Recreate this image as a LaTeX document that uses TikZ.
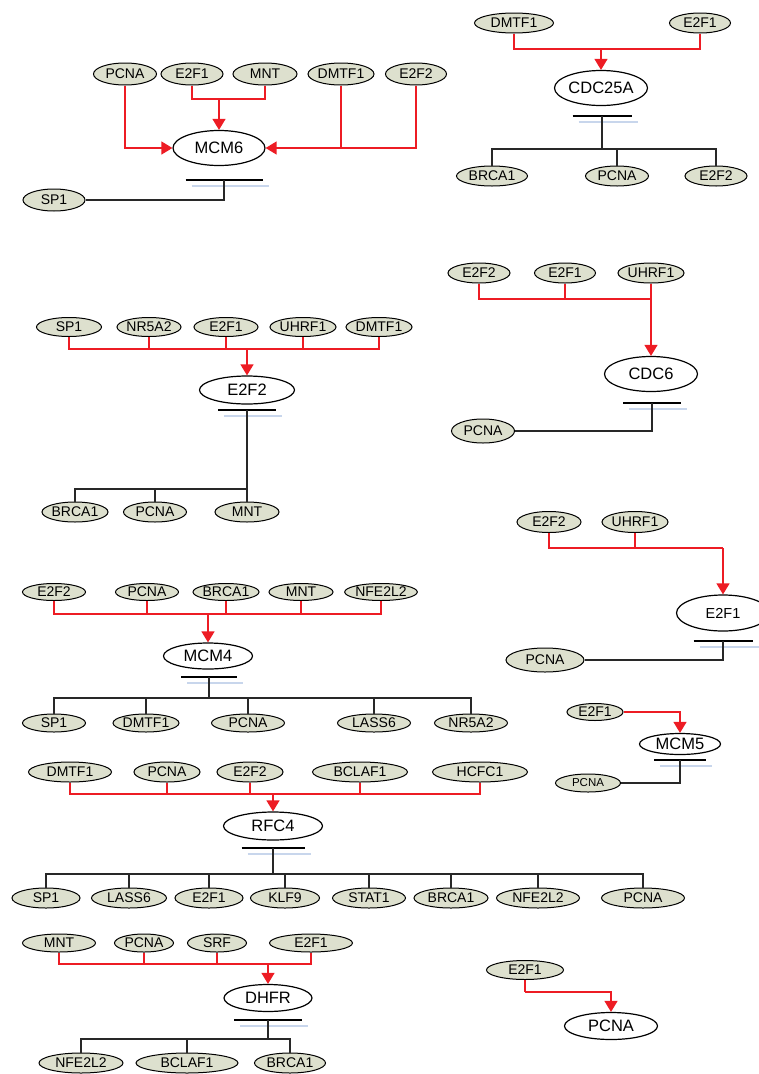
\documentclass[tikz,border=0pt]{standalone}
\usepackage{fontspec}
\setmainfont{Liberation Sans}
\usetikzlibrary{shapes.geometric,arrows.meta}
\definecolor{genefill}{RGB}{221,224,206}
\definecolor{actred}{RGB}{237,28,36}
\definecolor{inhgray}{RGB}{40,40,40}
\definecolor{barblue}{RGB}{200,214,236}
\tikzset{
  gene/.style={ellipse, draw=black, line width=1pt, fill=genefill, inner sep=0pt,
    minimum height=20pt, font=\fontsize{14}{14}\selectfont},
  hub/.style={ellipse, draw=black, line width=1.2pt, fill=white, inner sep=0pt,
    minimum height=34pt, font=\fontsize{16.5}{16.5}\selectfont},
  act/.style={draw=actred, line width=1.3pt},
  acttip/.style={act, -{Triangle[width=13pt,length=11pt]}},
  inh/.style={draw=inhgray, line width=1.2pt},
  barline/.style={draw=black, line width=1.5pt},
  barshade/.style={draw=barblue, line width=1.5pt},
}
% inhibition bar: #1 = centre coordinate, #2 = half length (pt)
\newcommand{\inhbar}[2]{%
  \draw[barshade] ([xshift=-#2pt+6pt,yshift=-6pt]#1) -- ([xshift=#2pt+6pt,yshift=-6pt]#1);
  \draw[barline] ([xshift=-#2pt]#1) -- ([xshift=#2pt]#1);}
\begin{document}
\begin{tikzpicture}[x=1pt,y=-1pt]
\useasboundingbox (0,0) rectangle (759,1074);

% ---------------- MCM6 ----------------
\node[hub, minimum width=92pt, minimum height=35pt] (m6) at (219,148) {MCM6};
\node[gene, minimum width=63pt, minimum height=22pt] (m6a) at (125,74) {PCNA};
\node[gene, minimum width=62pt, minimum height=22pt] (m6b) at (192,74) {E2F1};
\node[gene, minimum width=64pt, minimum height=22pt] (m6c) at (265,74) {MNT};
\node[gene, minimum width=64pt, minimum height=22pt] (m6d) at (341,74) {DMTF1};
\node[gene, minimum width=61pt, minimum height=22pt] (m6e) at (416,74) {E2F2};
\node[gene, minimum width=62pt, minimum height=22pt] (m6f) at (54,200) {SP1};
\coordinate (m6j) at (219,99);
\draw[acttip] (m6a.south) |- (m6.west);
\draw[act] (m6b.south) |- (m6j) -| (m6c.south);
\draw[acttip] (m6j) -- (m6.north);
\draw[acttip] (m6e.south) |- (m6.east);
\draw[act] (m6d.south) -- (m6d.south |- m6.east);
\coordinate (m6bar) at (224,180);
\inhbar{m6bar}{38.5}
\draw[inh] (m6bar) |- (m6f.east);

% ---------------- CDC25A ----------------
\node[hub, minimum width=93pt, minimum height=35pt] (c25) at (601,88) {CDC25A};
\node[gene, minimum width=79pt] (c25a) at (514,23) {DMTF1};
\node[gene, minimum width=61pt] (c25b) at (700,23) {E2F1};
\coordinate (c25j) at (601,49);
\draw[act] (c25a.south) |- (c25j) -| (c25b.south);
\draw[acttip] (c25j) -- (c25.north);
\coordinate (c25bar) at (602,116);
\inhbar{c25bar}{29.5}
\node[gene, minimum width=71pt] (c25x) at (492,176) {BRCA1};
\node[gene, minimum width=63pt] (c25y) at (617,176) {PCNA};
\node[gene, minimum width=62pt] (c25z) at (716,176) {E2F2};
\coordinate (c25o) at (602,149);
\draw[inh] (c25bar) -- (c25o);
\draw[inh] (c25x.north) |- (c25o) -| (c25z.north);
\draw[inh] (c25y.north) -- (c25y.north |- c25o);

% ---------------- E2F2 ----------------
\node[hub, minimum width=95pt, minimum height=28pt] (e2) at (247,390) {E2F2};
\node[gene, minimum width=65pt, minimum height=19pt] (e2a) at (69,327) {SP1};
\node[gene, minimum width=64pt, minimum height=19pt] (e2b) at (149,327) {NR5A2};
\node[gene, minimum width=64pt, minimum height=19pt] (e2c) at (226,327) {E2F1};
\node[gene, minimum width=62pt, minimum height=19pt] (e2d) at (303,327) {UHRF1};
\node[gene, minimum width=63pt, minimum height=19pt] (e2e) at (379,327) {DMTF1};
\coordinate (e2j) at (247,349);
\draw[act] (e2a.south) |- (e2j) -| (e2e.south);
\draw[act] (e2b.south) -- (e2b.south |- e2j);
\draw[act] (e2c.south) -- (e2c.south |- e2j);
\draw[act] (e2d.south) -- (e2d.south |- e2j);
\draw[acttip] (e2j) -- (e2.north);
\coordinate (e2bar) at (247,410);
\inhbar{e2bar}{29}
\node[gene, minimum width=64pt] (e2x) at (75,512) {BRCA1};
\node[gene, minimum width=63pt] (e2y) at (155,512) {PCNA};
\node[gene, minimum width=64pt] (e2z) at (247,512) {MNT};
\coordinate (e2o) at (247,489);
\draw[inh] (e2bar) -- (e2z.north);
\draw[inh] (e2x.north) |- (e2o);
\draw[inh] (e2y.north) -- (e2y.north |- e2o);

% ---------------- CDC6 ----------------
\node[hub, minimum width=93pt, minimum height=35pt] (c6) at (651,374) {CDC6};
\node[gene, minimum width=62pt] (c6a) at (479,273) {E2F2};
\node[gene, minimum width=61pt] (c6b) at (565,273) {E2F1};
\node[gene, minimum width=64pt] (c6c) at (651,273) {UHRF1};
\coordinate (c6j) at (651,299);
\draw[act] (c6a.south) |- (c6j);
\draw[act] (c6b.south) -- (c6b.south |- c6j);
\draw[acttip] (c6c.south) -- (c6.north);
\coordinate (c6bar) at (652,403);
\inhbar{c6bar}{29}
\node[gene, minimum width=63pt, minimum height=24pt] (c6x) at (483,431) {PCNA};
\draw[inh] (c6bar) |- (c6x.east);

% ---------------- E2F1 ----------------
\node[hub, minimum width=93pt, minimum height=36pt, font=\fontsize{14.5}{14.5}\selectfont] (e1) at (723,613) {E2F1};
\node[gene, minimum width=64pt, minimum height=21pt] (e1a) at (549,522) {E2F2};
\node[gene, minimum width=63pt, minimum height=21pt] (e1b) at (635,522) {UHRF1};
\coordinate (e1j) at (723,548);
\draw[act] (e1a.south) |- (e1j);
\draw[act] (e1b.south) -- (e1b.south |- e1j);
\draw[acttip] (e1j) -- (e1.north);
\coordinate (e1bar) at (723,641);
\inhbar{e1bar}{29.5}
\node[gene, minimum width=78pt, minimum height=24pt] (e1x) at (545,660) {PCNA};
\draw[inh] (e1bar) |- (e1x.east);

% ---------------- MCM5 ----------------
\node[hub, minimum width=81pt, minimum height=21pt] (m5) at (680,744) {MCM5};
\node[gene, minimum width=56pt, minimum height=17pt] (m5a) at (595,712) {E2F1};
\draw[acttip] (m5a.east) -| (m5.north);
\coordinate (m5bar) at (680,760);
\inhbar{m5bar}{26}
\node[gene, minimum width=65pt, minimum height=18pt, font=\fontsize{11.5}{11.5}\selectfont] (m5x) at (588,783) {PCNA};
\draw[inh] (m5bar) |- (m5x.east);

% ---------------- MCM4 ----------------
\node[hub, minimum width=89pt, minimum height=26pt] (m4) at (208,656) {MCM4};
\node[gene, minimum width=63pt, minimum height=17pt] (m4a) at (54,592) {E2F2};
\node[gene, minimum width=63pt, minimum height=17pt] (m4b) at (147,592) {PCNA};
\node[gene, minimum width=64pt, minimum height=17pt] (m4c) at (226,592) {BRCA1};
\node[gene, minimum width=64pt, minimum height=17pt] (m4d) at (301,592) {MNT};
\node[gene, minimum width=72pt, minimum height=17pt] (m4e) at (381,592) {NFE2L2};
\coordinate (m4j) at (208,614);
\draw[act] (m4a.south) |- (m4j) -| (m4e.south);
\draw[act] (m4b.south) -- (m4b.south |- m4j);
\draw[act] (m4c.south) -- (m4c.south |- m4j);
\draw[act] (m4d.south) -- (m4d.south |- m4j);
\draw[acttip] (m4j) -- (m4.north);
\coordinate (m4bar) at (209,677);
\inhbar{m4bar}{28}
\node[gene, minimum width=63pt, minimum height=18pt] (m4v) at (54,723) {SP1};
\node[gene, minimum width=61pt, minimum height=18pt] (m4w) at (146,723) {DMTF1};
\node[gene, minimum width=73pt, minimum height=18pt] (m4x) at (248,723) {PCNA};
\node[gene, minimum width=73pt, minimum height=18pt] (m4y) at (374,723) {LASS6};
\node[gene, minimum width=73pt, minimum height=18pt] (m4z) at (471,723) {NR5A2};
\coordinate (m4o) at (209,698);
\draw[inh] (m4bar) -- (m4o);
\draw[inh] (m4v.north) |- (m4o) -| (m4z.north);
\draw[inh] (m4w.north) -- (m4w.north |- m4o);
\draw[inh] (m4x.north) -- (m4x.north |- m4o);
\draw[inh] (m4y.north) -- (m4y.north |- m4o);

% ---------------- RFC4 ----------------
\node[hub, minimum width=99pt, minimum height=28pt] (r4) at (273,826) {RFC4};
\node[gene, minimum width=83pt] (r4a) at (70,772) {DMTF1};
\node[gene, minimum width=66pt] (r4b) at (167,772) {PCNA};
\node[gene, minimum width=66pt] (r4c) at (250,772) {E2F2};
\node[gene, minimum width=95pt] (r4d) at (360,772) {BCLAF1};
\node[gene, minimum width=95pt] (r4e) at (480,772) {HCFC1};
\coordinate (r4j) at (273,794);
\draw[act] (r4a.south) |- (r4j) -| (r4e.south);
\draw[act] (r4b.south) -- (r4b.south |- r4j);
\draw[act] (r4c.south) -- (r4c.south |- r4j);
\draw[act] (r4d.south) -- (r4d.south |- r4j);
\draw[acttip] (r4j) -- (r4.north);
\coordinate (r4bar) at (273,848);
\inhbar{r4bar}{31.5}
\node[gene, minimum width=68pt] (r4s) at (46,898) {SP1};
\node[gene, minimum width=75pt] (r4t) at (129,898) {LASS6};
\node[gene, minimum width=68pt] (r4u) at (209,898) {E2F1};
\node[gene, minimum width=69pt] (r4v) at (285,898) {KLF9};
\node[gene, minimum width=73pt] (r4w) at (369,898) {STAT1};
\node[gene, minimum width=74pt] (r4x) at (451,898) {BRCA1};
\node[gene, minimum width=83pt] (r4y) at (538,898) {NFE2L2};
\node[gene, minimum width=83pt] (r4z) at (643,898) {PCNA};
\coordinate (r4o) at (273,874);
\draw[inh] (r4bar) -- (r4o);
\draw[inh] (r4s.north) |- (r4o) -| (r4z.north);
\draw[inh] (r4t.north) -- (r4t.north |- r4o);
\draw[inh] (r4u.north) -- (r4u.north |- r4o);
\draw[inh] (r4v.north) -- (r4v.north |- r4o);
\draw[inh] (r4w.north) -- (r4w.north |- r4o);
\draw[inh] (r4x.north) -- (r4x.north |- r4o);
\draw[inh] (r4y.north) -- (r4y.north |- r4o);

% ---------------- DHFR ----------------
\node[hub, minimum width=88pt, minimum height=27pt] (dh) at (268,998) {DHFR};
\node[gene, minimum width=73pt, minimum height=18pt] (dha) at (59,943) {MNT};
\node[gene, minimum width=59pt, minimum height=18pt] (dhb) at (144,943) {PCNA};
\node[gene, minimum width=59pt, minimum height=18pt] (dhc) at (217,943) {SRF};
\node[gene, minimum width=83pt, minimum height=18pt] (dhd) at (311,943) {E2F1};
\coordinate (dhj) at (268,964);
\draw[act] (dha.south) |- (dhj) -| (dhd.south);
\draw[act] (dhb.south) -- (dhb.south |- dhj);
\draw[act] (dhc.south) -- (dhc.south |- dhj);
\draw[acttip] (dhj) -- (dh.north);
\coordinate (dhbar) at (268,1020);
\inhbar{dhbar}{34}
\node[gene, minimum width=84pt] (dhx) at (81,1063) {NFE2L2};
\node[gene, minimum width=102pt] (dhy) at (187,1063) {BCLAF1};
\node[gene, minimum width=71pt] (dhz) at (290,1063) {BRCA1};
\coordinate (dho) at (268,1039);
\draw[inh] (dhbar) -- (dho);
\draw[inh] (dhx.north) |- (dho) -| (dhz.north);
\draw[inh] (dhy.north) -- (dhy.north |- dho);

% ---------------- PCNA ----------------
\node[hub, minimum width=93pt, minimum height=27pt] (pc) at (611,1026) {PCNA};
\node[gene, minimum width=77pt, minimum height=19pt] (pca) at (525,970) {E2F1};
\coordinate (pcj) at (525,992);
\draw[act] (pca.south) -- (pcj);
\draw[acttip] (pcj) -| (pc.north);
\end{tikzpicture}
\end{document}
